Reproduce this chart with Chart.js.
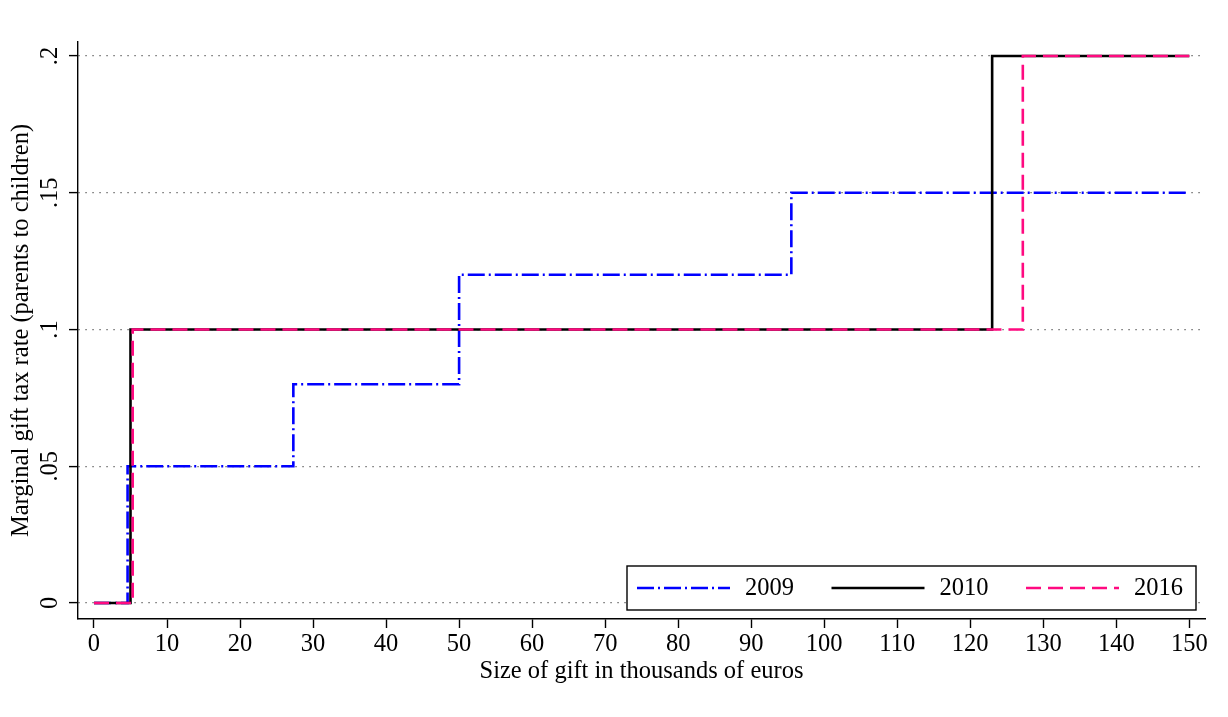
<!DOCTYPE html>
<html lang="en">
<head>
<meta charset="UTF-8">
<title>Marginal gift tax rate</title>
<script src="https://cdn.jsdelivr.net/npm/chart.js@4.4.1/dist/chart.umd.min.js"></script>
<style>
  html, body { margin: 0; padding: 0; background: #fff; }
  #wrap { width: 1228px; height: 717px; }
</style>
</head>
<body>
<div id="wrap"><canvas id="giftChart"></canvas></div>
<script>
// gift size (thousands of euros) where each marginal rate starts
const brackets2009 = [0, 4.6, 27.3, 50, 95.5, 150];
const rates2009    = [0, 0.05, 0.08, 0.12, 0.15, 0.15];
const brackets2010 = [0, 5, 123, 150];
const rates2010    = [0, 0.10, 0.20, 0.20];
const brackets2016 = [0, 5.3, 127.2, 150];
const rates2016    = [0, 0.10, 0.20, 0.20];

const seriesNames = ['2009', '2010', '2016'];
const xTicks = [0, 10, 20, 30, 40, 50, 60, 70, 80, 90, 100, 110, 120, 130, 140, 150];
const yTicks = [0, 0.05, 0.1, 0.15, 0.2];
const yTickLabels = ['0', '.05', '.1', '.15', '.2'];

const FONT = '"Liberation Serif", "Times New Roman", serif';
const FSIZE = 24.5;

Chart.defaults.font.family = FONT;
Chart.defaults.font.size = FSIZE;
Chart.defaults.color = '#000';

function toPoints(brackets, rates) {
    return brackets.map((x, i) => ({ x: x, y: rates[i] }));
}

// rotated y tick labels + boxed legend in the lower right
const extras = {
    id: 'extras',
    afterDraw(chart) {
        const ctx = chart.ctx;
        const ys = chart.scales.y;
        const area = chart.chartArea;

        ctx.save();
        ctx.fillStyle = '#000';
        ctx.font = FSIZE + 'px ' + FONT;
        ctx.textAlign = 'center';
        ctx.textBaseline = 'alphabetic';
        yTicks.forEach((v, i) => {
            ctx.save();
            ctx.translate(ys.right - 21.5, ys.getPixelForValue(v));
            ctx.rotate(-Math.PI / 2);
            ctx.fillText(yTickLabels[i], 0, 0);
            ctx.restore();
        });
        ctx.restore();

        // legend box
        const boxR = area.right - 9, boxB = area.bottom - 9;
        const boxW = 569, boxH = 44;
        const boxL = boxR - boxW, boxT = boxB - boxH;
        ctx.save();
        ctx.fillStyle = '#fff';
        ctx.fillRect(boxL, boxT, boxW, boxH);
        ctx.strokeStyle = '#000';
        ctx.lineWidth = 1.4;
        ctx.strokeRect(boxL, boxT, boxW, boxH);

        const midY = boxT + boxH / 2;
        ctx.font = FSIZE + 'px ' + FONT;
        ctx.textAlign = 'left';
        ctx.textBaseline = 'middle';
        chart.data.datasets.forEach((ds, i) => {
            const x0 = boxL + 10 + i * 194.5;
            ctx.save();
            ctx.strokeStyle = ds.borderColor;
            ctx.lineWidth = ds.borderWidth;
            ctx.setLineDash(ds.borderDash || []);
            ctx.beginPath();
            ctx.moveTo(x0, midY);
            ctx.lineTo(x0 + 93, midY);
            ctx.stroke();
            ctx.restore();
            ctx.fillStyle = '#000';
            ctx.fillText(seriesNames[i], x0 + 108, midY + 1);
        });
        ctx.restore();
    }
};

const ctx = document.getElementById('giftChart').getContext('2d');
new Chart(ctx, {
    type: 'line',
    data: {
        datasets: [
            {
                label: seriesNames[0],
                data: toPoints(brackets2009, rates2009),
                borderColor: '#0000ff',
                borderWidth: 2.6,
                borderDash: [17, 4, 2, 4],
                order: 2
            },
            {
                label: seriesNames[1],
                data: toPoints(brackets2010, rates2010),
                borderColor: '#000000',
                borderWidth: 2.6,
                borderDash: [],
                order: 1
            },
            {
                label: seriesNames[2],
                data: toPoints(brackets2016, rates2016),
                borderColor: '#ff0a80',
                borderWidth: 2.6,
                borderDash: [15, 7],
                order: 0
            }
        ]
    },
    options: {
        responsive: true,
        maintainAspectRatio: false,
        animation: false,
        layout: { padding: { left: 0, top: 42, right: 23, bottom: 0 } },
        elements: {
            point: { radius: 0, hoverRadius: 0 },
            line: { stepped: 'before', tension: 0, fill: false, borderJoinStyle: 'miter', borderCapStyle: 'butt' }
        },
        plugins: {
            legend: { display: false },
            tooltip: { enabled: false }
        },
        scales: {
            x: {
                type: 'linear',
                min: -2.19,
                max: 152.15,
                afterBuildTicks: s => { s.ticks = xTicks.map(v => ({ value: v })); },
                afterFit: s => { s.height = 98; },
                ticks: { padding: 2, maxRotation: 0, autoSkip: false, callback: v => String(v) },
                grid: { drawOnChartArea: false, drawTicks: true, tickLength: 9, tickColor: '#000', tickWidth: 1.4 },
                border: { display: true, color: '#000', width: 1.4 },
                title: {
                    display: true,
                    text: 'Size of gift in thousands of euros',
                    padding: { top: 0, bottom: 31 }
                }
            },
            y: {
                type: 'linear',
                min: -0.00585,
                max: 0.2051,
                afterBuildTicks: s => { s.ticks = yTicks.map(v => ({ value: v })); },
                afterFit: s => { s.width = 78; },
                ticks: { display: false },
                grid: {
                    drawOnChartArea: true,
                    drawTicks: true,
                    tickLength: 9,
                    color: '#5a5a5a',
                    lineWidth: 1.2,
                    tickColor: '#000',
                    tickWidth: 1.4,
                    tickBorderDash: [0, 0]
                },
                border: { display: true, color: '#000', width: 1.4, dash: [1.3, 5.7] },
                title: {
                    display: true,
                    text: 'Marginal gift tax rate (parents to children)',
                    padding: { top: 7, bottom: 0 }
                }
            }
        }
    },
    plugins: [extras]
});
</script>
</body>
</html>
